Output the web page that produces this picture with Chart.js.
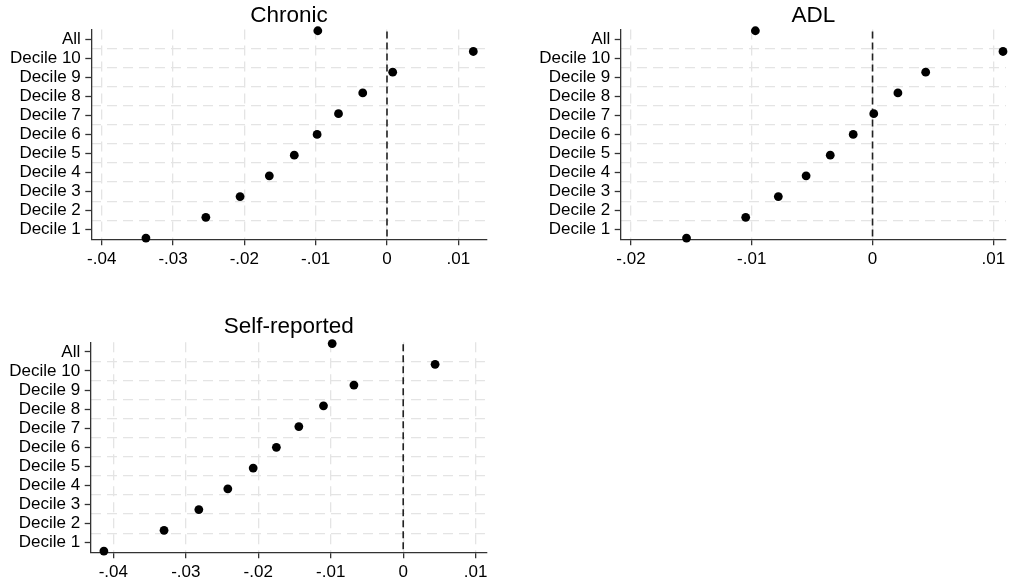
<!DOCTYPE html>
<html>
<head>
<meta charset="utf-8">
<script src="https://cdn.jsdelivr.net/npm/chart.js@4.4.1/dist/chart.umd.min.js"></script>
<style>
  body { margin: 0; background: #fff; }
  #wrap { position: relative; width: 1012px; height: 583px; }
  canvas { position: absolute; }
</style>
</head>
<body>
<div id="wrap">
  <canvas id="chronic" width="500" height="272" style="left:0;top:0"></canvas>
  <canvas id="adl" width="506" height="272" style="left:506px;top:0"></canvas>
  <canvas id="selfrep" width="500" height="283" style="left:0;top:300px"></canvas>
</div>
<script>
// rows, top to bottom
var categories = ["All", "Decile 10", "Decile 9", "Decile 8", "Decile 7", "Decile 6",
                  "Decile 5", "Decile 4", "Decile 3", "Decile 2", "Decile 1"];

var chronicVals = [-0.0097, 0.0121, 0.0008, -0.0034, -0.0068, -0.0098, -0.0130, -0.0165, -0.0206, -0.0254, -0.0338];
var adlVals     = [-0.0097, 0.0108, 0.0044, 0.0021, 0.0001, -0.0016, -0.0035, -0.0055, -0.0078, -0.0105, -0.0154];
var selfVals    = [-0.0098, 0.0044, -0.0068, -0.0110, -0.0144, -0.0175, -0.0207, -0.0242, -0.0282, -0.0330, -0.0413];

var ticksWide      = [-0.04, -0.03, -0.02, -0.01, 0, 0.01];
var tickLabelsWide = ["-.04", "-.03", "-.02", "-.01", "0", ".01"];
var ticksAdl       = [-0.02, -0.01, 0, 0.01];
var tickLabelsAdl  = ["-.02", "-.01", "0", ".01"];

var refValue = 0;

var FONT = '"Liberation Sans", Arial, Helvetica, sans-serif';
var AXIS = '#333';
var GRID = '#e4e4e4';

var zeroLine = {
  id: 'zeroLine',
  beforeDatasetsDraw: function(chart) {
    var ctx = chart.ctx;
    var x = chart.scales.x.getPixelForValue(refValue);
    var a = chart.chartArea;
    ctx.save();
    ctx.strokeStyle = '#222';
    ctx.lineWidth = 1.6;
    ctx.setLineDash([7, 4]);
    ctx.beginPath();
    ctx.moveTo(x, a.top + 2);
    ctx.lineTo(x, a.bottom);
    ctx.stroke();
    ctx.restore();
  }
};

function makePanel(id, title, vals, tickVals, tickLabels, p) {
  var pts = vals.map(function(v, i) {
    return { x: v, y: categories.length - i };
  });
  new Chart(document.getElementById(id), {
    type: 'scatter',
    data: {
      datasets: [{
        data: pts,
        backgroundColor: '#000',
        borderWidth: 0,
        pointRadius: 4.4,
        pointHoverRadius: 4.4,
        clip: false
      }]
    },
    options: {
      responsive: false,
      animation: false,
      layout: { padding: { left: 0, right: p.padRight, top: 0, bottom: 0 } },
      plugins: {
        legend: { display: false },
        tooltip: { enabled: false },
        title: {
          display: true,
          text: title,
          fullSize: false,
          color: '#000',
          font: { family: FONT, size: 22.5, weight: 'normal', lineHeight: 1.2 },
          padding: { top: p.titleTop, bottom: p.titleBottom }
        }
      },
      scales: {
        x: {
          type: 'linear',
          min: p.xMin,
          max: p.xMax,
          afterBuildTicks: function(s) {
            s.ticks = tickVals.map(function(v) { return { value: v }; });
          },
          afterFit: function(s) { s.height = p.xHeight; },
          ticks: {
            color: '#000',
            padding: 4,
            font: { family: FONT, size: 17 },
            callback: function(v, i) { return tickLabels[i]; }
          },
          grid: {
            color: GRID,
            lineWidth: 1.3,
            tickColor: AXIS,
            tickLength: 6,
            tickWidth: 1.3
          },
          border: { display: true, color: AXIS, width: 1.3, dash: [10, 6] }
        },
        y: {
          type: 'linear',
          display: false,
          min: 0.94,
          max: 11.06
        },
        yg: {
          type: 'category',
          position: 'left',
          labels: categories,
          offset: true,
          afterFit: function(s) { s.width = 0; },
          ticks: { display: false },
          grid: {
            offset: true,
            drawTicks: false,
            lineWidth: 1.3,
            color: function(c) {
              return (c.index === undefined || c.index === 0) ? 'rgba(0,0,0,0)' : GRID;
            }
          },
          border: { display: false, dash: [10, 6] }
        },
        yl: {
          type: 'category',
          position: 'left',
          labels: categories,
          offset: true,
          afterFit: function(s) { s.width = p.left; },
          ticks: {
            autoSkip: false,
            color: '#000',
            padding: 4.5,
            font: { family: FONT, size: 17, lineHeight: 1 }
          },
          grid: {
            drawOnChartArea: false,
            tickLength: 6,
            tickColor: AXIS,
            tickWidth: 1.3
          },
          border: { display: true, color: AXIS, width: 1.3 }
        }
      }
    },
    plugins: [zeroLine]
  });
}

makePanel('chronic', 'Chronic', chronicVals, ticksWide, tickLabelsWide,
  { left: 91.3, padRight: 13.3, titleTop: 2.5, titleBottom: 0, xHeight: 32.7, xMin: -0.04146, xMax: 0.01398 });
makePanel('adl', 'ADL', adlVals, ticksAdl, tickLabelsAdl,
  { left: 114.7, padRight: 6, titleTop: 2.5, titleBottom: 0, xHeight: 32.7, xMin: -0.02085, xMax: 0.01105 });
makePanel('selfrep', 'Self-reported', selfVals, ticksWide, tickLabelsWide,
  { left: 90.7, padRight: 13.3, titleTop: 13, titleBottom: 2.3, xHeight: 30.7, xMin: -0.04312, xMax: 0.01152 });
</script>
</body>
</html>
